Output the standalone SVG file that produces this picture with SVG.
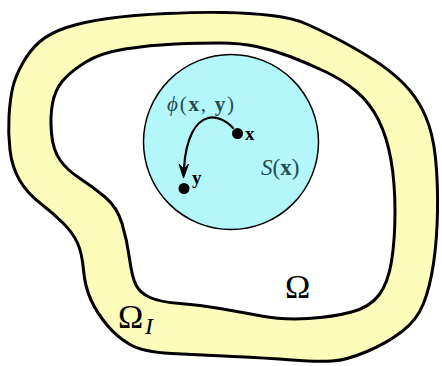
<svg xmlns="http://www.w3.org/2000/svg" width="442" height="366" viewBox="0 0 442 366">
<style>
.band{fill:#fcfcbb;stroke:#000;stroke-width:3;stroke-linejoin:round}
.dom{fill:#fff;stroke:#000;stroke-width:3;stroke-linejoin:round}
.ball{fill:#b3f7fb;stroke:#000;stroke-width:1.5}
.dot{fill:#000}
.lbl{font-family:"Liberation Serif","Times New Roman",serif;fill:#000}
.teal{fill:#264a52}
.it{font-style:italic}
.bf{font-weight:bold}
.conn{fill:none;stroke:#000;stroke-width:2.2;stroke-linecap:round}
</style>
<g id="omega-I">
<path class="band" d="M12.5,88.5 Q15,77 22.5,63.5 Q30,50 40,41.5 Q50,33 66.5,27.5 Q83,22 108,18.5 Q133,15 166.5,13.5 Q200,12 225,12.5 Q250,13 271.5,15.5 Q293,18 306.5,24 Q320,30 336.5,38.5 Q353,47 371.5,58.5 Q390,70 403.5,83.5 Q417,97 425,115 Q433,133 435.5,158 Q438,183 437.5,211.5 Q437,240 433.5,263.5 Q430,287 423.5,303.5 Q417,320 402,331.5 Q387,343 367,351.5 Q347,360 332,361 Q317,362 292,360 Q267,358 233.5,356.5 Q200,355 171.5,353.5 Q143,352 130,344.5 Q117,337 107,325 Q97,313 91,300 Q85,287 83.5,270 Q82,253 77.5,243 Q73,233 63,223 Q53,213 40,203 Q27,193 19.5,180 Q12,167 10,150 Q8,133 9,116.5 Q10,100 12.5,88.5 Z"/>
<text class="lbl" x="118" y="328" font-size="34">Ω</text>
<text class="lbl it" x="145" y="334" font-size="24">I</text>
</g>
<g id="omega">
<path class="dom" d="M52.5,103.5 Q55,90 62.5,81 Q70,72 85,62.5 Q100,53 125,49 Q150,45 175,44 Q200,43 220,43 Q240,43 256.5,46.5 Q273,50 290,56.5 Q307,63 325,71.5 Q343,80 356.5,91.5 Q370,103 378.5,120 Q387,137 391,160 Q395,183 395,211.5 Q395,240 391.5,261.5 Q388,283 379,295 Q370,307 351.5,312 Q333,317 308,318.5 Q283,320 261.5,316 Q240,312 220,308.5 Q200,305 180,303.5 Q160,302 150,297.5 Q140,293 136,285 Q132,277 129.5,258.5 Q127,240 122,223.5 Q117,207 105,197 Q93,187 80,178.5 Q67,170 60,160 Q53,150 51.5,133.5 Q50,117 52.5,103.5 Z"/>
<text class="lbl" x="285" y="298" font-size="34">Ω</text>
</g>
<g id="ball-S">
<circle class="ball" cx="231" cy="142" r="87.5"/>
<text class="lbl teal" x="261" y="175" font-size="23"><tspan class="it">S</tspan>(<tspan class="bf">x</tspan>)</text>
</g>
<g id="point-x">
<circle class="dot" cx="237.5" cy="133.5" r="5.5"/>
<text class="lbl bf" x="245" y="140" font-size="19">x</text>
</g>
<g id="point-y">
<circle class="dot" cx="184" cy="188.5" r="5.5"/>
<text class="lbl bf" x="192" y="184" font-size="19">y</text>
</g>
<g id="connectors">
<path class="conn" d="M233,128 C226,120 216,116 208,118 C196,121 186,137 184,168"/>
<polygon points="183.5,178 179,164 184,169.5 188.5,164" fill="#000" stroke="#000" stroke-width="1" stroke-linejoin="round"/>
<text class="lbl teal" x="167" y="111" font-size="21" textLength="67" lengthAdjust="spacing"><tspan class="it">ϕ</tspan>(<tspan class="bf">x</tspan>, <tspan class="bf">y</tspan>)</text>
</g>
</svg>
